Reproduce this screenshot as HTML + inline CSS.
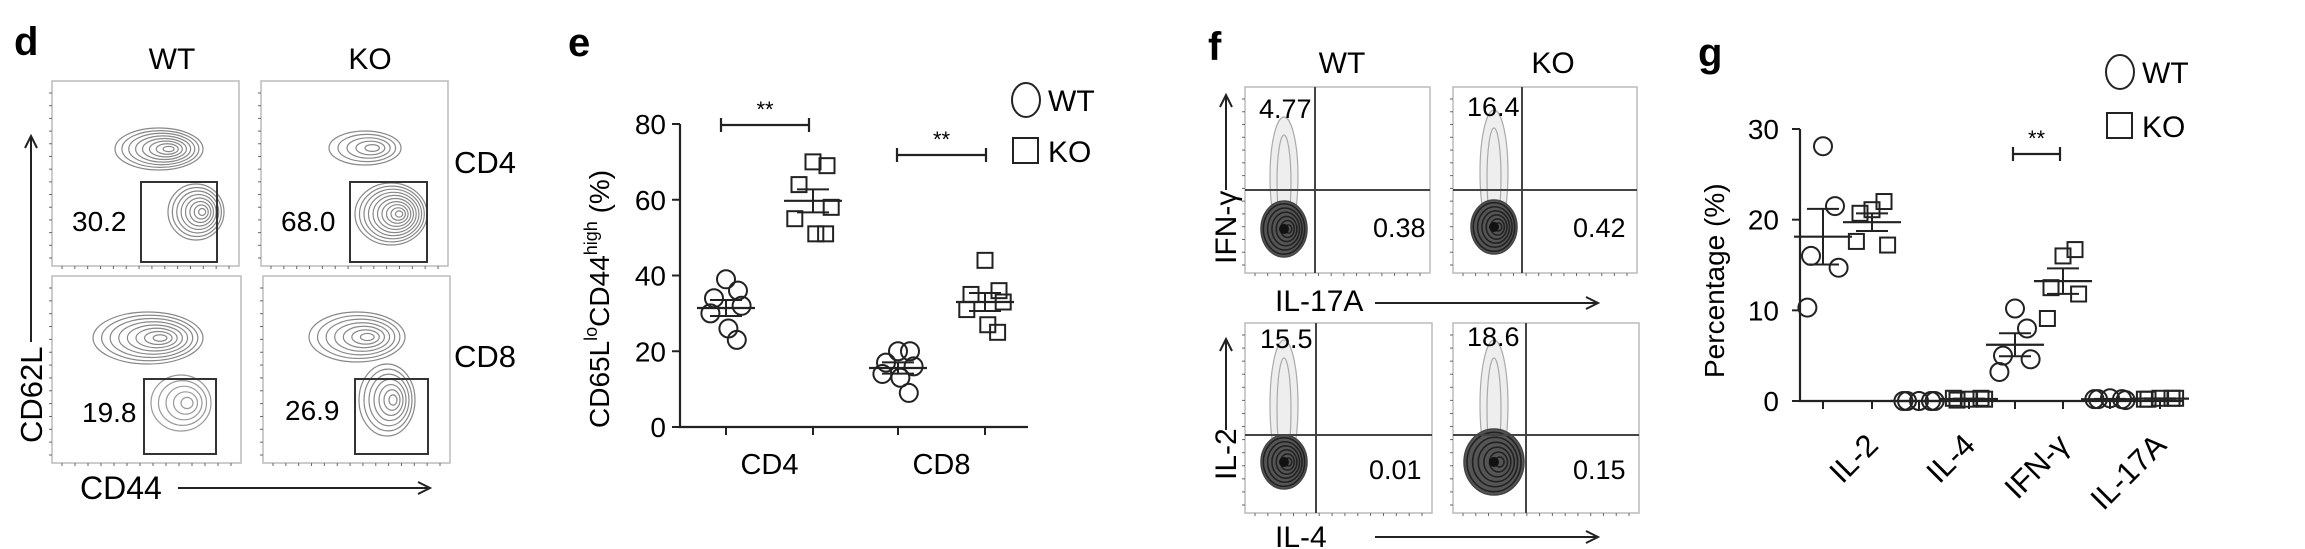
<!DOCTYPE html>
<html><head><meta charset="utf-8"><style>
html,body{margin:0;padding:0;background:#fff;}
svg{display:block;font-family:"Liberation Sans",Arial,sans-serif;}
</style></head><body>
<svg id="fig" width="2305" height="549" viewBox="0 0 2305 549" xmlns="http://www.w3.org/2000/svg">
<g id="pd">
<text x="14" y="55" font-size="40" font-weight="bold">d</text>
<text x="172" y="69" font-size="30" text-anchor="middle">WT</text>
<text x="370" y="69" font-size="30" text-anchor="middle">KO</text>
<text x="454" y="173" font-size="31">CD4</text>
<text x="454" y="367" font-size="31">CD8</text>
<text transform="translate(42,443) rotate(-90)" font-size="31">CD62L</text>
<line x1="31" y1="342" x2="31" y2="138" stroke="#222" stroke-width="2"/>
<path d="M25,148 L31,136 L37,148" fill="none" stroke="#222" stroke-width="2"/>
<text x="80" y="499" font-size="32">CD44</text>
<line x1="178" y1="488" x2="428" y2="488" stroke="#222" stroke-width="2"/>
<path d="M418,482 L430,488 L418,494" fill="none" stroke="#222" stroke-width="2"/>
</g>
<g id="pe">
<text x="568" y="56" font-size="40" font-weight="bold">e</text>
</g>
<g id="pf">
<text x="1208" y="60" font-size="40" font-weight="bold">f</text>
<text x="1342" y="73" font-size="30" text-anchor="middle">WT</text>
<text x="1553" y="73" font-size="30" text-anchor="middle">KO</text>
<text transform="translate(1236,264) rotate(-90)" font-size="30">IFN-γ</text>
<line x1="1226" y1="190" x2="1226" y2="97" stroke="#222" stroke-width="2"/>
<path d="M1220,107 L1226,95 L1232,107" fill="none" stroke="#222" stroke-width="2"/>
<text x="1275" y="311" font-size="30">IL-17A</text>
<line x1="1375" y1="303" x2="1596" y2="303" stroke="#222" stroke-width="2"/>
<path d="M1586,297 L1598,303 L1586,309" fill="none" stroke="#222" stroke-width="2"/>
<text transform="translate(1236,480) rotate(-90)" font-size="30">IL-2</text>
<line x1="1226" y1="430" x2="1226" y2="341" stroke="#222" stroke-width="2"/>
<path d="M1220,351 L1226,339 L1232,351" fill="none" stroke="#222" stroke-width="2"/>
<text x="1275" y="547" font-size="30">IL-4</text>
<line x1="1375" y1="537" x2="1596" y2="537" stroke="#222" stroke-width="2"/>
<path d="M1586,531 L1598,537 L1586,543" fill="none" stroke="#222" stroke-width="2"/>
</g>
<g id="pg">
<text x="1698" y="66" font-size="40" font-weight="bold">g</text>
</g>
</svg>
<script>
// ---------- Panel e data ----------
const eCategories = ["CD4", "CD8"];
const eWT = [[39, 36, 34, 32, 30, 26, 23], [20, 20, 17, 16, 14, 13, 9]];
const eKO = [[70, 69, 64, 58, 55, 51, 51], [44, 36, 35, 33, 31, 27, 25]];
const eTicks = [0, 20, 40, 60, 80];
// ---------- Panel g data ----------
const gCategories = ["IL-2", "IL-4", "IFN-γ", "IL-17A"];
const gWT = [[28.1, 21.5, 16, 14.7, 10.3], [0, 0, 0, 0, 0], [10.2, 8, 5, 4.6, 3.2], [0.3, 0.2, 0.2, 0.1, 0.2]];
const gKO = [[21.1, 22, 20.7, 17.2, 17.6], [0.2, 0.3, 0.1, 0.2, 0.3], [16, 16.7, 12.5, 11.8, 9.1], [0.3, 0.3, 0.2, 0.3, 0.2]];
const gTicks = [0, 10, 20, 30];
// ---------- Flow plot printed values ----------
const dValues = ["30.2", "68.0", "19.8", "26.9"];
const fTopLeft = ["4.77", "16.4", "15.5", "18.6"];
const fBottomRight = ["0.38", "0.42", "0.01", "0.15"];

const NS = "http://www.w3.org/2000/svg";
function mk(parent, tag, attrs) {
  const el = document.createElementNS(NS, tag);
  for (const k in attrs) el.setAttribute(k, attrs[k]);
  parent.appendChild(el);
  return el;
}
function txt(parent, x, y, s, size, anchor) {
  const t = mk(parent, "text", {x: x, y: y, "font-size": size, "text-anchor": anchor || "start"});
  t.textContent = s;
  return t;
}
function mean(a) { return a.reduce((p, c) => p + c, 0) / a.length; }
function sem(a) { const m = mean(a); return Math.sqrt(a.reduce((p, c) => p + (c - m) * (c - m), 0) / (a.length - 1)) / Math.sqrt(a.length); }
// jitter layout (not data): horizontal spread pattern by point rank
function jit(i, w) { const pat = [0, 1, -1, 1.3, -1.3, 0.2, 0.9]; return pat[i % pat.length] * w; }

function drawScatter(g, px, vals, y, shape, name, spread) {
  vals.forEach((v, i) => {
    const cx = px + jit(i, spread), cy = y(v);
    let el;
    if (shape === "circle") el = mk(g, "circle", {cx: cx, cy: cy, r: 9, fill: "none", stroke: "#222", "stroke-width": 2});
    else el = mk(g, "rect", {x: cx - 7.5, y: cy - 7.5, width: 15, height: 15, fill: "none", stroke: "#222", "stroke-width": 2});
    
    
  });
  const m = mean(vals), s = sem(vals);
  const ml = mk(g, "line", {x1: px - 29, x2: px + 29, y1: y(m), y2: y(m), stroke: "#222", "stroke-width": 2.2});
  
  
  const eb = mk(g, "path", {d: `M${px},${y(m - s)}V${y(m + s)}M${px - 16},${y(m + s)}H${px + 16}M${px - 16},${y(m - s)}H${px + 16}`, fill: "none", stroke: "#222", "stroke-width": 2});
  
  
}
function sigBar(g, x1, x2, yy, name) {
  const b = mk(g, "path", {d: `M${x1},${yy - 7}V${yy + 7}M${x1},${yy}H${x2}M${x2},${yy - 7}V${yy + 7}`, fill: "none", stroke: "#222", "stroke-width": 2.2});
  
  
  const t = txt(g, (x1 + x2) / 2, yy - 8, "**", 22, "middle");
  
  
}
function legend(g, cx, cy, cy2, name) {
  const c = mk(g, "ellipse", {cx: cx, cy: cy, rx: 14, ry: 17, fill: "none", stroke: "#222", "stroke-width": 2});
  
  
  const t1 = txt(g, cx + 22, cy + 11, "WT", 30);
  
  
  const r = mk(g, "rect", {x: cx - 13, y: cy2 - 13, width: 25, height: 25, fill: "none", stroke: "#222", "stroke-width": 2});
  
  
  const t2 = txt(g, cx + 22, cy2 + 11, "KO", 30);
  
  
}

// ---------- Panel e ----------
(function () {
  const g = document.getElementById("pe");
  const y = v => 427 - v * (303 / 80);
  const xs = [[726, 813], [898, 985]];
  const ax = mk(g, "path", {d: "M680,124V427H1028", fill: "none", stroke: "#222", "stroke-width": 2.2});
  
  
  eTicks.forEach(t => {
    const tk = mk(g, "line", {x1: 672, x2: 680, y1: y(t), y2: y(t), stroke: "#222", "stroke-width": 2});
    
    
    const tl = txt(g, 666, y(t) + 10, String(t), 28, "end");
    
    
  });
  xs.flat().forEach(x => {
    const tk = mk(g, "line", {x1: x, x2: x, y1: 427, y2: 435, stroke: "#222", "stroke-width": 2});
    
    
  });
  eCategories.forEach((c, i) => {
    const t = txt(g, (xs[i][0] + xs[i][1]) / 2, 474, c, 29, "middle");
    
    
    drawScatter(g, xs[i][0], eWT[i], y, "circle", c.toLowerCase() + "-wt", 12);
    drawScatter(g, xs[i][1], eKO[i], y, "rect", c.toLowerCase() + "-ko", 14);
  });
  const yt = mk(g, "text", {transform: "translate(609,428) rotate(-90)", "font-size": 28});
  
  
  yt.innerHTML = 'CD65L<tspan dy="-12" font-size="18">lo</tspan><tspan dy="12">CD44</tspan><tspan dy="-12" font-size="18">high</tspan><tspan dy="12"> (%)</tspan>';
  sigBar(g, 721, 809, 125, "sig-bar-cd4");
  sigBar(g, 897, 986, 155, "sig-bar-cd8");
  legend(g, 1026, 100, 151, "e");
})();

// ---------- Panel g ----------
(function () {
  const g = document.getElementById("pg");
  const y = v => 401 - v * (272 / 30);
  const xs = [[1823, 1872], [1919, 1969], [2015, 2063], [2110, 2160]];
  const ax = mk(g, "path", {d: "M1800,129V401H2183", fill: "none", stroke: "#222", "stroke-width": 2.2});
  
  
  gTicks.forEach(t => {
    const tk = mk(g, "line", {x1: 1792, x2: 1800, y1: y(t), y2: y(t), stroke: "#222", "stroke-width": 2});
    
    
    const tl = txt(g, 1779, y(t) + 10, String(t), 28, "end");
    
    
  });
  xs.flat().forEach(x => {
    const tk = mk(g, "line", {x1: x, x2: x, y1: 401, y2: 409, stroke: "#222", "stroke-width": 2});
    
    
  });
  gCategories.forEach((c, i) => {
    const ex = xs[i][1] + 8;
    const t = mk(g, "text", {transform: `translate(${ex},${447}) rotate(-45)`, "font-size": 31, "text-anchor": "end"});
    t.textContent = c;
    
    
    drawScatter(g, xs[i][0], gWT[i], y, "circle", "g-" + i + "-wt", 12);
    drawScatter(g, xs[i][1], gKO[i], y, "rect", "g-" + i + "-ko", 12);
  });
  const yt = mk(g, "text", {transform: "translate(1724,378) rotate(-90)", "font-size": 28});
  yt.textContent = "Percentage (%)";
  
  
  sigBar(g, 2013, 2060, 154, "sig-bar-ifng");
  legend(g, 2120, 72, 126, "g");
})();

// ---------- Flow cytometry plots ----------
function frame(g, x, y, w, h, name) {
  const r = mk(g, "rect", {x: x, y: y, width: w, height: h, fill: "none", stroke: "#bbb", "stroke-width": 1.5});
  
  
  for (let i = 0; i < 14; i++) {
    mk(g, "line", {x1: x - 3, x2: x, y1: y + 12 + i * (h - 20) / 13, y2: y + 12 + i * (h - 20) / 13, stroke: "#666", "stroke-width": 1});
    mk(g, "line", {x1: x + 10 + i * (w - 20) / 13, x2: x + 10 + i * (w - 20) / 13, y1: y + h, y2: y + h + 3, stroke: "#666", "stroke-width": 1});
  }
}
function rings(g, cx, cy, rx, ry, n, col, sw) {
  for (let i = 0; i < n; i++) {
    const f = 1 - i / n;
    mk(g, "ellipse", {cx: cx + (1 - f) * rx * 0.25, cy: cy, rx: rx * f, ry: ry * f, fill: "none", stroke: col, "stroke-width": sw});
  }
}
(function () {
  const g = document.getElementById("pd");
  const boxes = [[52, 81, 187, 185], [261, 81, 187, 185], [52, 276, 189, 187], [263, 276, 187, 187]];
  const gates = [[141, 182, 76, 80], [350, 182, 77, 80], [144, 379, 72, 75], [355, 379, 73, 75]];
  const numPos = [[72, 231], [281, 231], [82, 422], [285, 420]];
  boxes.forEach(b => frame(g, b[0], b[1], b[2], b[3], 'contour-plot'));
  rings(g, 159, 149, 44, 21, 8, "#888", 1.2); rings(g, 196, 212, 28, 28, 8, "#888", 1.2);
  rings(g, 365, 148, 36, 17, 5, "#888", 1.2); rings(g, 391, 214, 36, 31, 10, "#888", 1.2);
  rings(g, 148, 338, 55, 26, 8, "#888", 1.2); rings(g, 181, 403, 30, 28, 5, "#999", 1.2);
  rings(g, 357, 337, 48, 25, 7, "#888", 1.2); rings(g, 387, 400, 28, 36, 7, "#888", 1.2);
  gates.forEach(q => {
    const r = mk(g, "rect", {x: q[0], y: q[1], width: q[2], height: q[3], fill: "none", stroke: "#333", "stroke-width": 2});
    
    
  });
  dValues.forEach((v, i) => {
    const t = txt(g, numPos[i][0], numPos[i][1], v, 28);
    
    
  });
})();
(function () {
  const g = document.getElementById("pf");
  const boxes = [[1245, 87, 185, 186], [1453, 87, 184, 186], [1245, 323, 187, 190], [1453, 323, 186, 190]];
  const quad = [[1315, 190], [1522, 190], [1316, 435], [1526, 435]];
  const blobs = [[1284, 229, 23, 28, 125], [1494, 227, 23, 27, 118], [1284, 462, 23, 27, 348], [1494, 462, 30, 33, 348]];
  const tlPos = [[1259, 118], [1467, 116], [1260, 348], [1467, 346]];
  const brPos = [[1373, 237], [1573, 237], [1369, 479], [1573, 479]];
  boxes.forEach(b => frame(g, b[0], b[1], b[2], b[3], 'density-plot'));
  blobs.forEach(b => {
    mk(g, "ellipse", {cx: b[0], cy: (b[1] + b[4]) / 2, rx: 14, ry: (b[1] - b[4]) / 2 + 8, fill: "#eee", stroke: "#aaa", "stroke-width": 1.2});
    mk(g, "ellipse", {cx: b[0], cy: (b[1] + b[4]) / 2 + 5, rx: 7, ry: (b[1] - b[4]) / 2 - 5, fill: "none", stroke: "#aaa", "stroke-width": 1.2});
    mk(g, "ellipse", {cx: b[0], cy: b[1], rx: b[2], ry: b[3], fill: "#555", stroke: "#444", "stroke-width": 1.5});
    rings(g, b[0], b[1], b[2] * 0.9, b[3] * 0.9, 6, "#222", 1.6);
    mk(g, "circle", {cx: b[0], cy: b[1], r: 5, fill: "#111"});
  });
  quad.forEach((q, i) => {
    const b = boxes[i];
    const l = mk(g, "path", {d: `M${q[0]},${b[1]}V${b[1] + b[3]}M${b[0]},${q[1]}H${b[0] + b[2]}`, fill: "none", stroke: "#444", "stroke-width": 2});
    
    
  });
  fTopLeft.forEach((v, i) => {
    const t = txt(g, tlPos[i][0], tlPos[i][1], v, 27);
    
    
  });
  fBottomRight.forEach((v, i) => {
    const t = txt(g, brPos[i][0], brPos[i][1], v, 27);
    
    
  });
})();
</script>
</body></html>
